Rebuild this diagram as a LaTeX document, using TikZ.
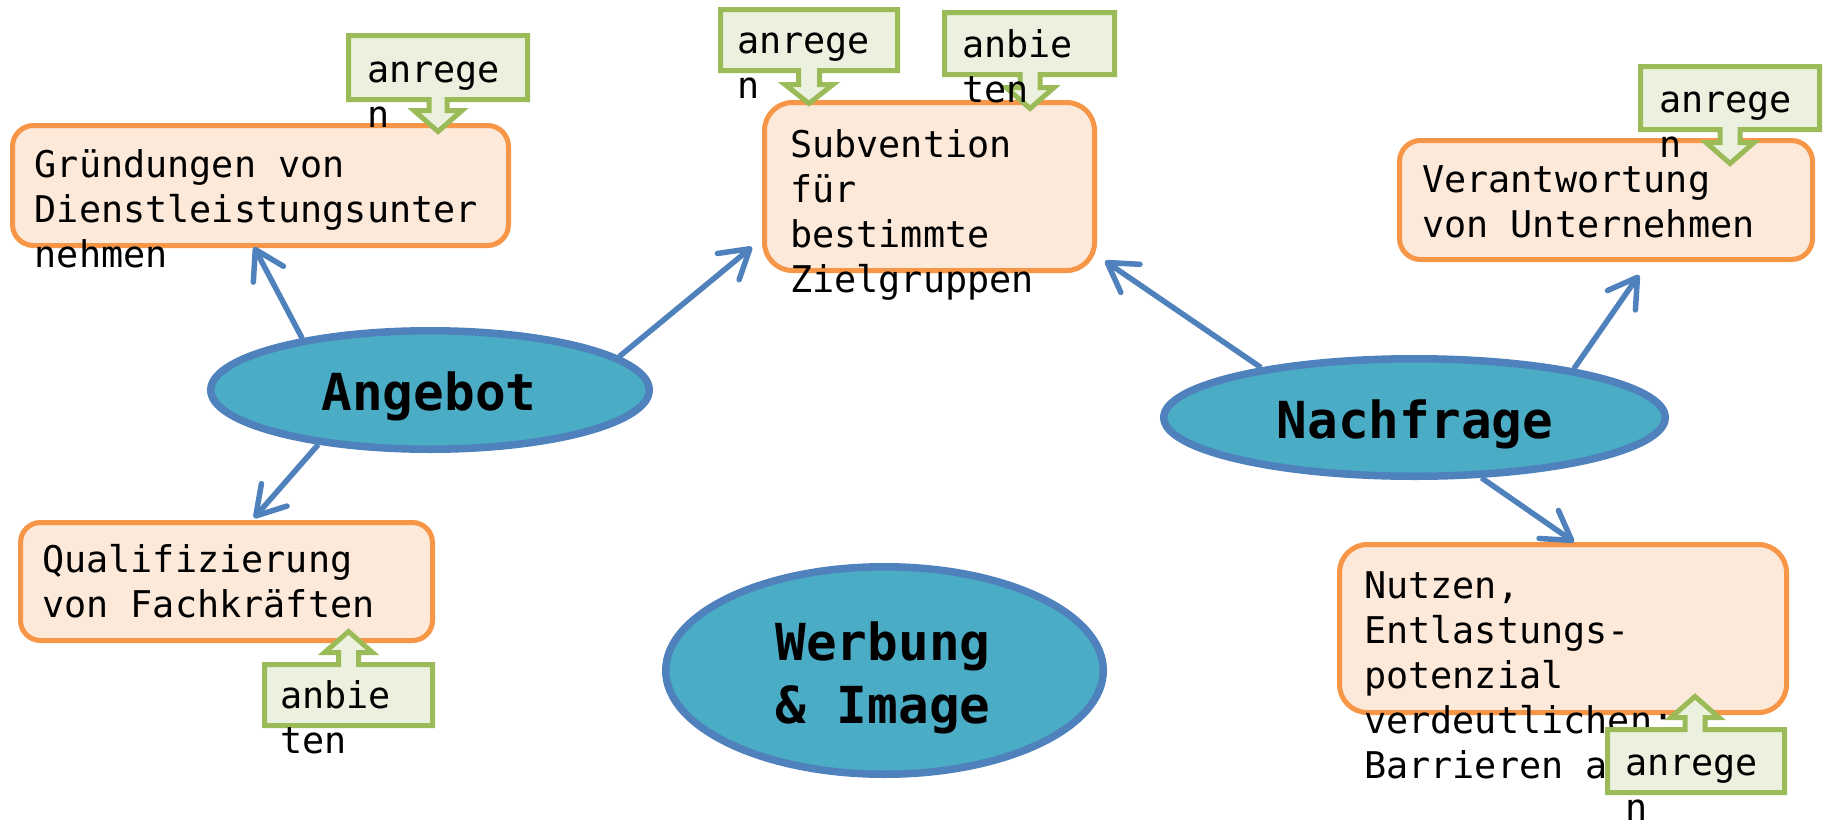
\documentclass[tikz,border=0pt]{standalone}
\usepackage{fontspec}
\setmonofont{DejaVu Sans Mono}
\usetikzlibrary{arrows.meta,shapes.geometric,calc}
\definecolor{oline}{HTML}{F79646}
\definecolor{ofill}{HTML}{FDE9D9}
\definecolor{gline}{HTML}{9BBB59}
\definecolor{gfill}{HTML}{EBF1DE}
\definecolor{bline}{HTML}{4F81BD}
\definecolor{efill}{HTML}{4BACC6}
% #1 x1, #2 far edge y, #3 x2, #4 attach edge y, #5 cx, #6 shaft half, #7 head half, #8 head base y, #9 tip y
\newcommand\mycallout[9]{\draw[callbox] (#1,#2) -- (#3,#2) -- (#3,#4) -- ({#5+#6},#4) -- ({#5+#6},#8) -- ({#5+#7},#8) -- (#5,#9) -- ({#5-#7},#8) -- ({#5-#6},#8) -- ({#5-#6},#4) -- (#1,#4) -- cycle;}
\begin{document}
\begin{tikzpicture}[x=1pt,y=-1pt,
  ell/.style={ellipse, draw=bline, fill=efill, line width=7.5pt, inner sep=0pt},
  etxt/.style={anchor=base, inner sep=0pt, font=\ttfamily\bfseries\fontsize{51}{63}\selectfont},
  obox/.style={rectangle, draw=oline, fill=ofill, line width=5pt, inner sep=0pt},
  btxt/.style={anchor=base west, inner sep=0pt, font=\ttfamily\fontsize{36.8}{45}\selectfont},
  callbox/.style={draw=gline, fill=gfill, line width=5pt, line join=miter},
  arr/.style={draw=bline, line width=5.5pt, -{Straight Barb[length=28pt,width=34pt,round]}}]
\useasboundingbox (0,0) rectangle (1825,822);
\fill[white] (0,0) rectangle (1825,822);

% ellipses
\node[ell, minimum width=438.5pt, minimum height=118.5pt] (ang) at (430,390) {};
\node[ell, minimum width=501.5pt, minimum height=117.5pt] (nach) at (1414.5,417.5) {};
\node[ell, minimum width=437.5pt, minimum height=207.5pt] (werb) at (884.5,670.5) {};
\node[etxt] (angT) at (429,410) {Angebot};
\node[etxt] (nachT) at (1415,438) {Nachfrage};
\node[etxt] (werbT) at (883,660) {\begin{tabular}[t]{@{}c@{}}Werbung\\ \& Image\end{tabular}};

% boxes
\node[obox, minimum width=496pt, minimum height=120pt, rounded corners=21pt] (gru) at (260.5,185.5) {};
\node[obox, minimum width=330pt, minimum height=168pt, rounded corners=28pt] (sub) at (929.5,186.5) {};
\node[obox, minimum width=413pt, minimum height=119pt, rounded corners=21pt] (ver) at (1606,200) {};
\node[obox, minimum width=447pt, minimum height=168pt, rounded corners=28pt] (nut) at (1563,628.5) {};
\node[obox, minimum width=412pt, minimum height=118pt, rounded corners=20pt] (qua) at (226.5,581.5) {};

% arrows
\draw[arr] (ang.158) -- ($(gru.south)+(-6.5,-1)$);
\draw[arr] (ang.10) -- ($(sub.west)+(-10,60.5)$);
\draw[arr] (ang.206) -- ($(qua.north)+(27.5,-2)$);
\draw[arr] (nach.17) -- ($(ver.south)+(33,13)$);
\draw[arr] (nach.318) -- ($(nut.north)+(11,0)$);
\draw[arr] (nach.162) -- ($(sub.south east)+(8,-12)$);

% box texts
\node[btxt] (gruT) at (34.5,177) {\begin{tabular}[t]{@{}l@{}}Gründungen von\\Dienstleistungsunter\\nehmen\end{tabular}};
\node[btxt] (subT) at (790,157) {\begin{tabular}[t]{@{}l@{}}Subvention\\für\\bestimmte\\Zielgruppen\end{tabular}};
\node[btxt] (verT) at (1422,192) {\begin{tabular}[t]{@{}l@{}}Verantwortung\\von Unternehmen\end{tabular}};
\node[btxt] (nutT) at (1364,598) {\begin{tabular}[t]{@{}l@{}}Nutzen,\\Entlastungs-\\potenzial\\verdeutlichen:\\Barrieren abbauen\end{tabular}};
\node[btxt] (quaT) at (42,572) {\begin{tabular}[t]{@{}l@{}}Qualifizierung\\von Fachkräften\end{tabular}};

% callouts
\mycallout{348.5}{35.5}{527.5}{99.5}{438}{9}{24}{110.5}{131.5}
\mycallout{720.5}{9.5}{897.5}{70.5}{809}{10.5}{24}{84.5}{103.5}
\mycallout{944.5}{12.5}{1114.5}{74.5}{1030}{10}{24}{87.5}{108.5}
\mycallout{1640.5}{66.5}{1819.5}{129.5}{1730}{10}{24}{142.5}{163.5}
\mycallout{1607.5}{792.5}{1784.5}{729.5}{1695}{10}{24}{717.5}{696.5}
\mycallout{264.5}{725.5}{432.5}{664.5}{348.5}{10}{24}{652.5}{631.5}

% callout texts
\node[btxt] (c1T) at (367,82) {\begin{tabular}[t]{@{}l@{}}anrege\\n\end{tabular}};
\node[btxt] (c2T) at (737,53) {\begin{tabular}[t]{@{}l@{}}anrege\\n\end{tabular}};
\node[btxt] (c3T) at (962,57) {\begin{tabular}[t]{@{}l@{}}anbie\\ten\end{tabular}};
\node[btxt] (c4T) at (1659,112) {\begin{tabular}[t]{@{}l@{}}anrege\\n\end{tabular}};
\node[btxt] (c5T) at (1625,775) {\begin{tabular}[t]{@{}l@{}}anrege\\n\end{tabular}};
\node[btxt] (c6T) at (280,708) {\begin{tabular}[t]{@{}l@{}}anbie\\ten\end{tabular}};
\end{tikzpicture}
\end{document}
